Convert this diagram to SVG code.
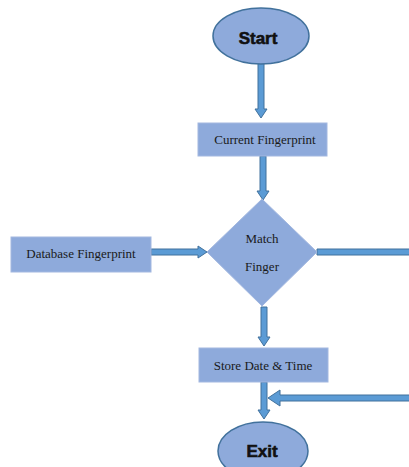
<svg xmlns="http://www.w3.org/2000/svg" width="409" height="467" viewBox="0 0 409 467">
<style>
.box{fill:#8eaadb;stroke:#a3b8e0;stroke-width:1}
.term{fill:#8eaadb;stroke:#41719c;stroke-width:1.5}
.arr{fill:#5b9bd5;stroke:#41719c;stroke-width:1}
.t{font-family:"Liberation Serif",serif;font-size:13px;fill:#1a1a1a;text-anchor:middle}
.tb{font-family:"Liberation Sans",Arial,sans-serif;font-size:17px;font-weight:bold;fill:#111;stroke:#111;stroke-width:0.6;text-anchor:middle}
</style>
<rect width="409" height="467" fill="#ffffff"/>
<g id="connectors">
<path class="arr" d="M258,63 H264 V109 H267 L261,118 L255,109 H258 Z"/>
<path class="arr" d="M260,156 H266 V191 H269 L263,200 L257,191 H260 Z"/>
<path class="arr" d="M151,249 H198 V246 L207,252 L198,258 V255 H151 Z"/>
<path class="arr" d="M317,249 H410 V255 H317 Z"/>
<path class="arr" d="M261,307 H267 V337 H270 L264,346 L258,337 H261 Z"/>
<path class="arr" d="M261,382 H267 V410 H270 L264,419 L258,410 H261 Z"/>
<path class="arr" d="M410,395 H280 V390 L268,398 L280,406 V401 H410 Z"/>
</g>
<g id="start">
<ellipse class="term" cx="261" cy="36" rx="48" ry="28"/>
<text class="tb" x="258" y="44">Start</text>
</g>
<g id="current">
<rect class="box" x="198" y="123" width="129" height="33"/>
<text class="t" x="265" y="144">Current Fingerprint</text>
</g>
<g id="database">
<rect class="box" x="11" y="237" width="140" height="35"/>
<text class="t" x="81" y="258">Database Fingerprint</text>
</g>
<g id="match">
<polygon class="box" points="262,199 317,252 262,306 207,252"/>
<text class="t" x="262" y="243">Match</text>
<text class="t" x="262" y="271">Finger</text>
</g>
<g id="store">
<rect class="box" x="199" y="348" width="129" height="34"/>
<text class="t" x="263" y="370">Store Date &amp; Time</text>
</g>
<g id="exit">
<ellipse class="term" cx="263" cy="451" rx="45" ry="29"/>
<text class="tb" x="262" y="457">Exit</text>
</g>
</svg>
